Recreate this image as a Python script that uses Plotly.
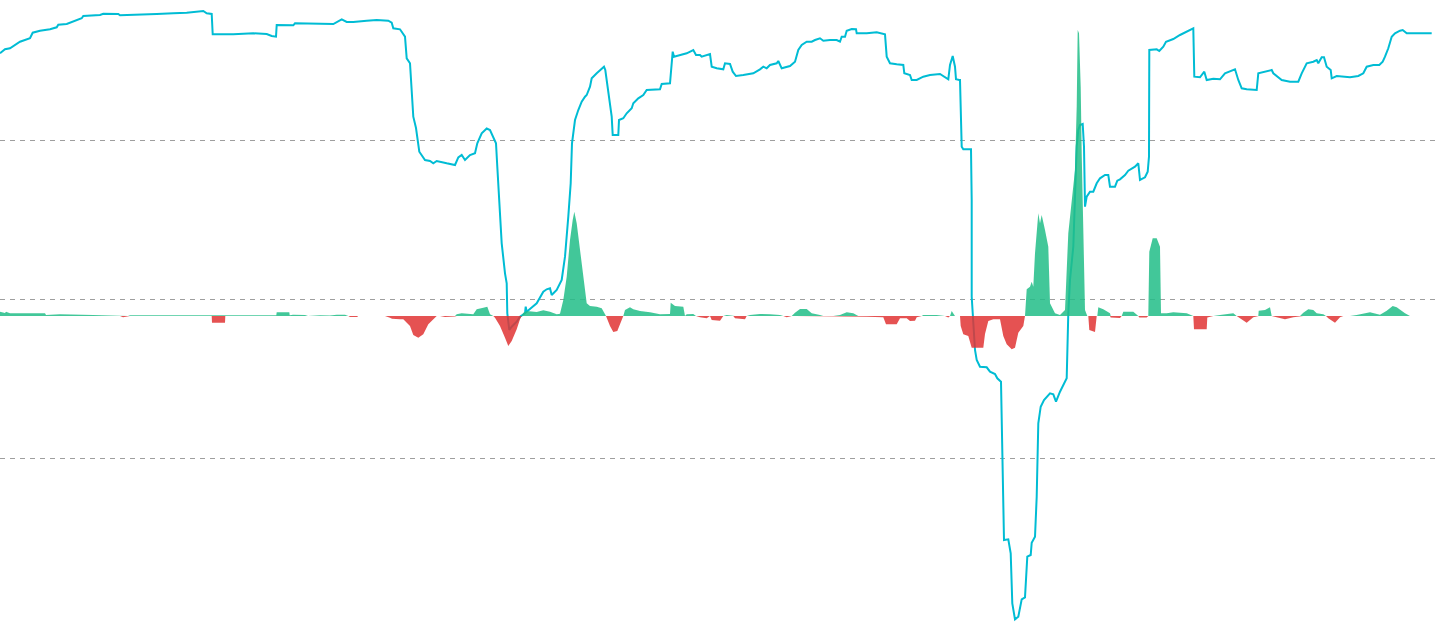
import numpy as np
import plotly.graph_objects as go

# ---- line series (bar index, value) ----
line_x = [0, 5, 10, 15, 20, 30, 32.7, 40, 50, 56.7, 58.3, 66.7, 73.3, 81.7, 83.3, 100, 103.3, 118.3, 120, 133.3,
          143.3, 156.7, 173.3, 186.7, 203.3, 206.7, 211.7, 212.7, 233.3, 253.3, 266.7, 271.7, 276, 276.7, 293.3, 295,
          333.3, 338.3, 341.7, 346.7, 353.3, 366.7, 376.7, 388.3, 391.7, 393.3, 400, 405, 406.7, 410, 413.3, 416,
          419.3, 425, 430, 433.3, 436.7, 446.7, 455, 458.3, 461.7, 465, 470, 475, 477.3, 481.7, 486.7, 490, 493.3,
          496, 497.3, 499.3, 501.7, 505, 506.7, 507.3, 509.3, 511.7, 516.7, 520, 525, 525.7, 526.7, 536.7, 543.3,
          546.7, 550, 551.7, 556.7, 561.7, 565, 568.3, 570.7, 572, 575, 578.3, 581.7, 585, 586.7, 590, 591.7, 596.7,
          601.7, 604, 605.3, 608.3, 611.7, 612.7, 618.3, 619, 623.3, 626.7, 631.7, 633.3, 638.3, 643.3, 646.7, 660,
          661.7, 670, 671.7, 672.7, 674, 680, 686.7, 693.3, 696, 700, 701.7, 710, 711.7, 716.7, 723.3, 725, 730,
          732.7, 736, 743.3, 753.3, 760, 763.3, 766.7, 770, 776.7, 778.3, 781.7, 790, 795, 798.3, 801.7, 806.7,
          811.7, 815, 820, 823.3, 830, 836.7, 840, 841.7, 845, 846.7, 851.7, 856, 856.7, 866.7, 876.7, 885, 886.7,
          890, 896.7, 903.3, 904.3, 910, 911.7, 916.7, 923.3, 930, 940, 945, 948.3, 950, 952.7, 955, 956, 959.3,
          960, 961.7, 963.3, 971, 971.7, 971.7, 973.3, 975, 976.7, 980, 986.7, 990, 995, 997.3, 1001, 1002.7, 1004,
          1008.3, 1010.7, 1012.3, 1015, 1018.3, 1021.7, 1025, 1027.3, 1030.7, 1031.7, 1035, 1036.7, 1038.3, 1040.7,
          1044, 1050, 1053.3, 1056, 1060, 1064, 1066.7, 1068.3, 1070, 1073.3, 1076, 1076.7, 1078.3, 1080, 1082.7,
          1084, 1085, 1086.7, 1090, 1093.3, 1096.7, 1100, 1105, 1108.3, 1110, 1115, 1117.3, 1120, 1125, 1128.3,
          1135, 1138.3, 1140, 1145, 1147.7, 1149, 1149.3, 1156.7, 1159.3, 1163.3, 1166, 1173.3, 1180, 1186.7,
          1193.3, 1194.3, 1200, 1204.3, 1206.7, 1213.3, 1220, 1225, 1235, 1238.3, 1241.7, 1246.7, 1256.7, 1258.3,
          1265, 1271.7, 1273.3, 1281.7, 1290, 1298.3, 1301.7, 1306.7, 1313.3, 1316.7, 1318.3, 1321.7, 1324,
          1326.7, 1330.7, 1331.7, 1336.7, 1343.3, 1350, 1358.3, 1363.3, 1366.7, 1373.3, 1379.3, 1382.7, 1385,
          1388.3, 1391.7, 1395, 1400, 1402.7, 1406.7, 1413.3, 1420, 1431.7]
line_v = [404.7, 408.7, 409.7, 413, 416.3, 419.7, 425.3, 427.3, 428.7, 430.7, 433.3, 434, 436.3, 439.7, 442, 443,
          444.3, 444, 442.7, 443, 443, 444, 444.7, 445.3, 447, 444.7, 444, 423.7, 423.7, 424.7, 424, 422, 421.3,
          433, 432.7, 434.7, 434, 437.3, 438.7, 436, 436, 437.3, 438, 437.3, 435.3, 429.7, 428.7, 421.3, 399.7,
          394.7, 341.3, 330, 306.3, 298, 297, 294.7, 297, 294.7, 293, 300.7, 303, 298, 303, 304.7, 314.7, 324.7,
          329.5, 328, 320, 314.7, 291.3, 258, 214.7, 184.7, 174.7, 144.7, 128, 131.3, 136.3, 141.3, 144.7, 151.3,
          146.3, 154.7, 166.3, 168.7, 169.7, 163, 168, 178, 201.3, 241.3, 274.7, 314.7, 338, 348, 356.3, 361.3,
          363, 371.3, 379.7, 384.7, 389.7, 391.3, 388, 364.7, 341.3, 323, 323, 338, 339.7, 344.7, 349.7, 354.7,
          359.7, 363, 368, 368.7, 374, 374.7, 391.3, 406.3, 401.3, 403, 404.7, 408, 403, 403, 401.3, 404, 391.3,
          389.7, 388.7, 394.7, 394, 386.3, 382, 383, 384.7, 388.7, 391.3, 389.7, 393, 394.7, 397, 389.7, 392,
          396.3, 408, 413, 416.3, 416.3, 418, 419.7, 417.3, 418, 418, 416.3, 421.3, 421.3, 427.3, 429, 428.7,
          424.7, 424.7, 425.7, 423.7, 401.3, 394.7, 393.7, 393, 384.7, 383, 378, 378, 381.3, 383, 384, 381.3,
          378.7, 393, 402, 391.3, 378.7, 378, 378, 311.3, 308.7, 308.7, 258, 161.3, 128, 108, 98, 91.3, 90.7,
          86.3, 84, 79.7, 76.3, -2, -82, -81.3, -95.3, -145.3, -161.3, -158.7, -141.3, -139.3, -98.7, -97, -84.7,
          -78.7, -38.7, 34.7, 51.3, 58, 64.7, 63.7, 56.3, 66.3, 74.7, 79.7, 144.7, 178, 211.3, 278, 311.3, 328,
          333, 334, 311.3, 251.3, 261.3, 266.3, 266.3, 274.7, 279.7, 283, 283, 271.3, 271.3, 277.3, 278.7, 283,
          287.3, 291.3, 294.7, 278, 280.7, 286.3, 301.3, 408, 408.7, 407, 411.3, 416.3, 419, 423, 426.3, 429.7,
          381.3, 380.7, 386.3, 378, 379.3, 378.7, 384.7, 388.7, 378, 369.7, 368.7, 368, 384.7, 386.3, 388,
          384.7, 378, 376.3, 376.3, 384.7, 394.7, 396.3, 398, 394.7, 400.7, 400.7, 391.3, 388, 379.7, 382,
          381.3, 380.7, 382, 384.7, 391.3, 393, 393, 396.3, 401.3, 409.7, 421.3, 424.7, 427.3, 428, 424.7,
          424.7, 424, 424.7]

# ---- histogram series (bar index, value) ----
hist_x = [0, 2, 5, 6, 10, 20, 33, 45, 46, 60, 93, 110, 120, 123, 128, 130, 200, 210, 211.7, 212, 225, 225.3, 230,
          250, 255, 262, 270, 276.3, 276.7, 289.3, 289.7, 293, 305, 308, 320, 330, 336.7, 345, 348.3, 350, 357,
          358.3, 370, 385, 390, 392, 400, 403.3, 410, 413.3, 418.3, 423.3, 428.3, 435, 436.7, 440, 445, 455,
          456.7, 461.7, 473.3, 476.7, 483.3, 487.3, 490, 493.3, 495, 500, 505, 508.3, 511.7, 516.7, 520, 521.7,
          523.3, 526.7, 536.7, 543.3, 550, 556.7, 560, 563.3, 566.7, 570, 572.7, 574.3, 576.7, 580, 582.3, 585,
          586.7, 590, 596.7, 601.7, 605, 606, 610, 613.3, 617.3, 621.7, 623.3, 625, 630, 633.3, 640, 650, 660,
          670, 670.7, 675, 681.7, 683.3, 685, 686.7, 693.3, 696, 700, 706.7, 710, 711.7, 720, 723.3, 726.7,
          733.3, 735, 745, 746.7, 750, 760, 770, 780, 783.3, 786.7, 791.7, 795, 800, 806.7, 811.7, 820, 823.3,
          833.3, 840, 846.7, 853.3, 858.3, 866.7, 883.3, 886, 896.7, 900, 906.7, 910, 915, 916.7, 921.7, 923.3,
          936.7, 945, 948.3, 950, 951.7, 955, 960, 960.7, 963.3, 968.3, 971.7, 983.3, 985, 988.3, 993.3, 1000,
          1003.3, 1006.7, 1011.7, 1015, 1018.3, 1023.3, 1025, 1026.7, 1030, 1031.7, 1033.3, 1035, 1038.3, 1040,
          1041.7, 1045, 1048.3, 1050, 1055, 1060, 1065, 1068.3, 1071.7, 1073.3, 1075, 1076.7, 1077.7, 1079,
          1080.7, 1081.7, 1083.3, 1085, 1087.3, 1088.3, 1089.3, 1095, 1096.7, 1097.3, 1098.3, 1103.3, 1110,
          1110.7, 1120, 1121.7, 1123.3, 1133.3, 1138.3, 1139.3, 1146.7, 1148.3, 1149.3, 1152.7, 1156.7, 1160,
          1161, 1166.7, 1173.3, 1186.7, 1193.3, 1194, 1206.7, 1207.3, 1213.3, 1220, 1233.3, 1236.7, 1240,
          1246.7, 1253.3, 1258.3, 1258.7, 1265, 1270, 1271.7, 1276.7, 1285, 1293.3, 1300, 1303.3, 1308.3,
          1313.3, 1316.7, 1323.3, 1326, 1328.3, 1335, 1340, 1343.3, 1346.7, 1350, 1356.7, 1370, 1380, 1386.7,
          1392.7, 1396.7, 1405, 1410, 1420, 1432]
hist_v = [4.3, 4, 3, 4.3, 2.7, 2.7, 2.7, 2.7, 1, 1.7, 1, 0.7, 0, -1.3, 0, 0.7, 0.7, 0, 0, -6.7, -6.7, 0, 0.7,
          0.7, -0.7, 0, 0.7, 0.7, 3.7, 3.7, 0.7, 1.3, 1, 0, 0.7, 0.5, 1.3, 1.3, 0, -1, -1, 0, 0.7, 0.7, -1.7,
          -2.7, -3.3, -3.3, -10, -19, -21.7, -18.3, -8.3, -1.7, 0, 0.5, -1, -0.5, 1.7, 2.7, 1.7, 6.7, 8.3, 9.3,
          1.7, 0, -1.7, -10, -21.7, -30, -25, -13.3, -3.3, 0, 3.3, 5, 4, 5.7, 4.3, 1.7, 2.3, 16, 39.3, 76, 96,
          104.3, 92.7, 66, 49.3, 26, 12.7, 10, 9.3, 7.7, 2.7, 0, -10, -16, -15, -3.3, 0, 6, 8.7, 6.7, 5, 3.7,
          1.7, 2, 13.3, 10, 10, 9.3, 0, 1.7, 2, 0, -1.3, -2.3, 0, -4, -4.7, 0, 1, 0, -2.3, -3.3, 0, 1, 2, 1.7, 1,
          0, -1.3, 0, 3.3, 7, 7, 2.7, 1, 0, 0, 1, 3.7, 2.7, 0, -0.7, -1.3, -8.3, -8.3, -2.3, -2.3, -5, -4.7,
          -1.3, 0, 1, 1, 0, -1.5, 0, 5, 0, 0, -10, -18.3, -20, -31.7, -31.7, -18, -5, -3.3, -3.3, -20, -28.3,
          -33.3, -31.7, -16.7, -10, 0, 26.7, 29.3, 34.3, 29.3, 62.7, 102.7, 92.7, 101, 86, 69.3, 12.7, 2.7, 1,
          6, 82.7, 116, 126, 146, 209.3, 286, 282.7, 229.3, 162.7, 96, 6, 0, 0, -14, -16, 0, 0, 8.7, 6.7, 2.7,
          -1.5, -2, 0, 4.3, 4.3, 0, -1.5, -1.5, 0, 64.3, 77.7, 77.7, 69.3, 2.7, 2.7, 3.7, 2.7, 0, -13.3, -13.3,
          -1.5, 0, 1, 2.7, 0, -2.3, -6.7, -1.3, 0, 5.3, 6, 8.7, 0, -1.3, -3.3, -1.3, 0, 3.3, 6.7, 6, 2.7, 1.7,
          0, -2.3, -6.7, -1.3, 0, 0.7, 0, 1, 3.7, 1.3, 5.3, 10, 8.7, 2.7, 0, -0.7, 0]

grid_vals = [0, 159, 318]

hv = np.array(hist_v, dtype=float)
pos = np.maximum(hv, 0)
neg = np.minimum(hv, 0)

fig = go.Figure()
fig.add_trace(go.Scatter(x=line_x, y=line_v, mode="lines",
                         line=dict(color="#00bcd4", width=2), yaxis="y", hoverinfo="skip"))
fig.add_trace(go.Scatter(x=hist_x, y=pos, mode="lines", fill="tozeroy",
                         fillcolor="rgba(33,189,135,0.85)", line=dict(width=0, color="rgba(0,0,0,0)"),
                         yaxis="y2", hoverinfo="skip"))
fig.add_trace(go.Scatter(x=hist_x, y=neg, mode="lines", fill="tozeroy",
                         fillcolor="rgba(224,52,52,0.85)", line=dict(width=0, color="rgba(0,0,0,0)"),
                         yaxis="y2", hoverinfo="skip"))

fig.update_layout(
    width=1440, height=633,
    margin=dict(l=0, r=0, t=0, b=0),
    paper_bgcolor="white", plot_bgcolor="white",
    showlegend=False,
    xaxis=dict(range=[0, 1440], showgrid=False, zeroline=False, showticklabels=False, ticks=""),
    yaxis=dict(range=[-175, 458], tickvals=grid_vals, showgrid=True, gridcolor="#9e9e9e",
               gridwidth=1, griddash="5px,5px", zeroline=False, showticklabels=False, ticks=""),
    yaxis2=dict(range=[-317, 316], overlaying="y", showgrid=False, zeroline=False,
                showticklabels=False, ticks=""),
)

fig.write_html(
    "out.html",
    config={"displayModeBar": False},
    post_script="document.body.style.margin='0';document.body.style.padding='0';"
                "document.body.style.overflow='hidden';",
)
